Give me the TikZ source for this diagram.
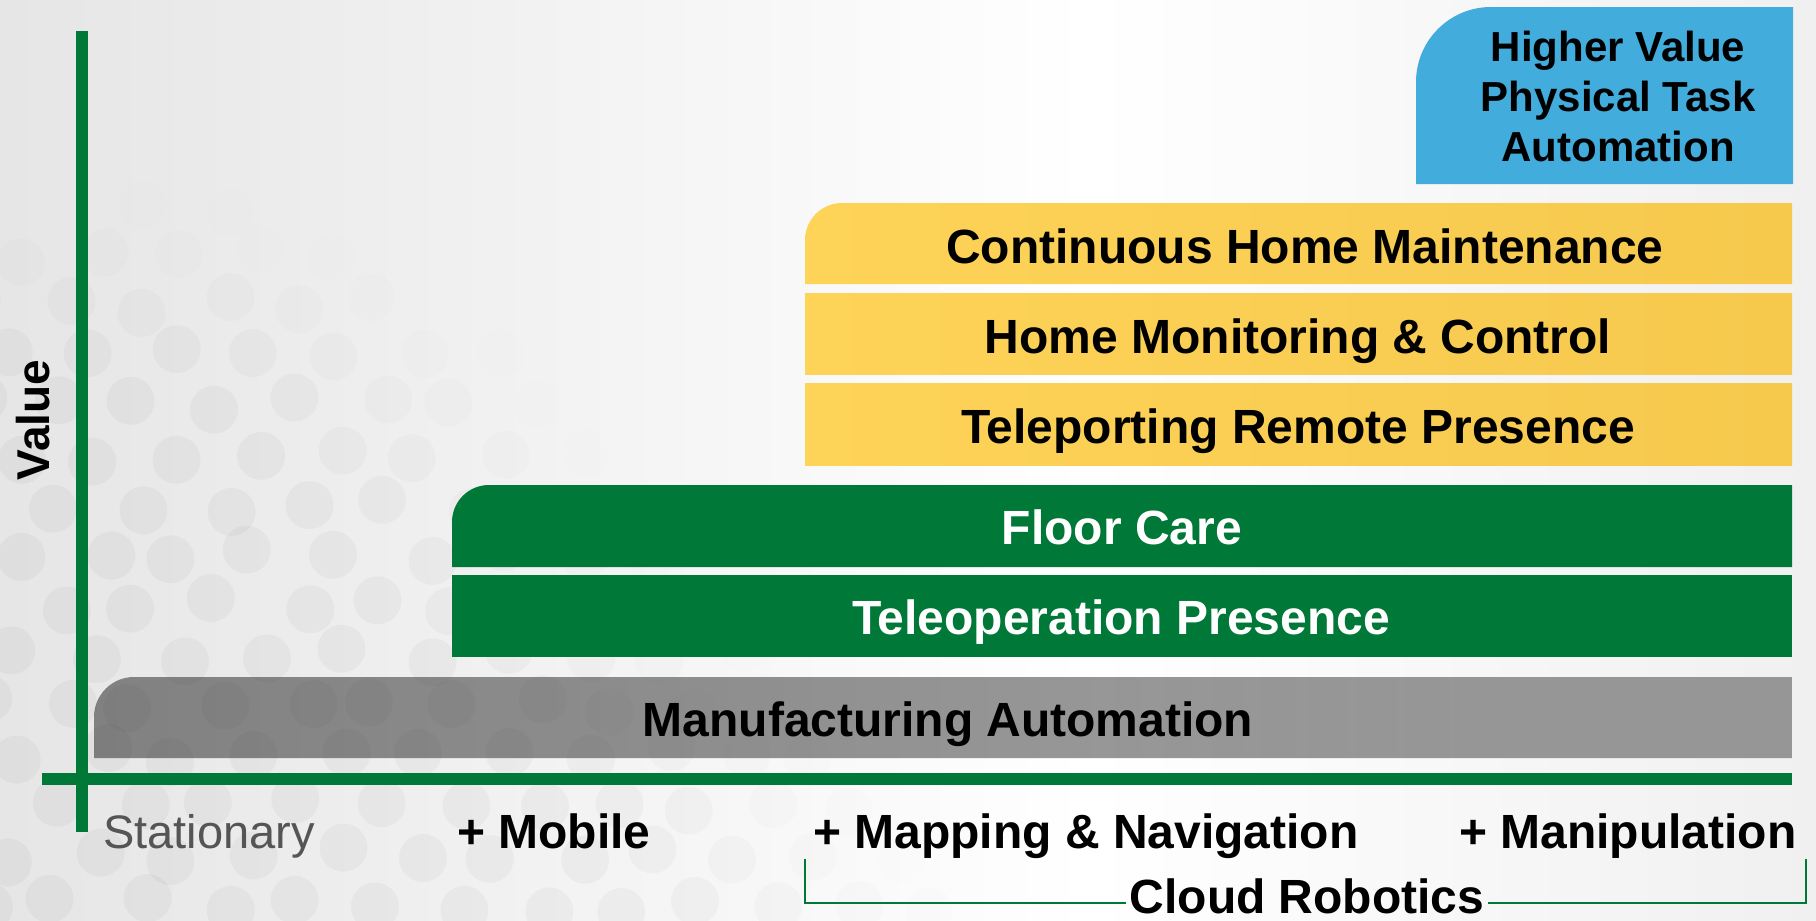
\documentclass[tikz,border=0pt]{standalone}
\usepackage{fontspec}
\setmainfont{Liberation Sans}
\usepackage{tikz}
\definecolor{axisgreen}{HTML}{007837}
\definecolor{tierblue}{HTML}{42ADDD}
\definecolor{tieryellowl}{HTML}{FDD358}
\definecolor{tieryellowr}{HTML}{F6C94D}
\definecolor{labgray}{HTML}{555555}
\definecolor{bgedgel}{HTML}{D5D5D5}
\definecolor{bgmidl}{HTML}{E8E8E8}
\definecolor{bgmidr}{HTML}{F0F0F0}
\definecolor{bgedger}{HTML}{CECECE}
\pgfdeclarehorizontalshading{backdrop}{100bp}{color(0bp)=(bgedgel); color(28bp)=(bgmidl);
  color(55bp)=(white); color(75bp)=(bgmidr); color(100bp)=(bgedger)}
% one box with only its top left corner rounded
\newcommand{\tierbox}[6]{%
  \path[#1] (#2,#5) [rounded corners=#6] -- (#2,#3) [sharp corners] -- (#4,#3) -- (#4,#5) -- cycle;}
\tikzset{
  axisline/.style={draw=axisgreen, line width=12pt},
  bracket/.style={draw=axisgreen, line width=2.5pt},
  yellowtier/.style={left color=tieryellowl, right color=tieryellowr},
  greentier/.style={fill=axisgreen},
  bluetier/.style={fill=tierblue},
  graytier/.style={left color=black!89, right color=black!76, fill opacity=0.5},
  tiertext/.style={font=\fontsize{48}{56}\selectfont\bfseries, text=black, inner sep=0pt, anchor=base},
  whitetext/.style={tiertext, text=white},
  steplab/.style={font=\fontsize{48}{56}\selectfont\bfseries, text=black, inner sep=0pt, anchor=base west},
  dot/.style={fill=black}
}

\begin{document}
\begin{tikzpicture}[x=1pt, y=-1pt]
  \useasboundingbox (0,0) rectangle (1816,921);
  \shade[shading=backdrop] (0,0) rectangle (1816,921);

  \pgfmathsetseed{7}
  \begin{scope}
    \clip (0,0) rectangle (1816,921);
    \foreach \r in {0,...,14}{
      \foreach \c in {0,...,14}{
        \pgfmathsetmacro{\dx}{80*\c + 40*mod(\r,2) - 20 + 14*rand}
        \pgfmathsetmacro{\dy}{205 + 50*\r + 8*rand}
        \pgfmathsetmacro{\fa}{max(0,min(1,(400 + 0.85*(\dy-200) - \dx)/320))}
        \pgfmathsetmacro{\fb}{max(0,min(1,(\dy-190)/180))}
        \pgfmathsetmacro{\op}{0.03*\fa*\fb}
        \fill[dot, fill opacity=\op] (\dx,\dy) circle[radius=24];
      }
    }
  \end{scope}

  \tierbox{bluetier}{1416}{7}{1793}{184}{75pt}
  \tierbox{yellowtier}{805}{203}{1792}{284}{37pt}
  \tierbox{yellowtier}{805}{293}{1792}{374}{0pt}
  \tierbox{yellowtier}{805}{383}{1792}{465}{0pt}
  \tierbox{greentier}{452}{485}{1792}{567}{37pt}
  \tierbox{greentier}{452}{575}{1792}{657}{0pt}
  \tierbox{graytier}{94}{677}{1792}{758}{40pt}

  \node[tiertext, anchor=center, align=center, font=\fontsize{42}{50}\selectfont\bfseries]
    (higher) at (1618,96) {Higher Value\\Physical Task\\Automation};
  \node[tiertext] (maint) at (1305,263) {Continuous Home Maintenance};
  \node[tiertext] (monit) at (1298,353) {Home Monitoring \& Control};
  \node[tiertext] (telep) at (1298,443) {Teleporting Remote Presence};
  \node[whitetext] (floor) at (1122,544) {Floor Care};
  \node[whitetext] (teleop) at (1121,634) {Teleoperation Presence};
  \node[tiertext] (manuf) at (948,736) {Manufacturing Automation};

  \coordinate (vtop) at (82,31);
  \coordinate (vbot) at (82,832);
  \coordinate (hleft) at (42,779);
  \coordinate (hright) at (1792,779);
  \draw[axisline] (vtop) -- (vbot);
  \draw[axisline] (hleft) -- (hright);

  \node[font=\fontsize{46}{54}\selectfont\bfseries, rotate=90] (value) at (33,420) {Value};

  \node[steplab, font=\fontsize{47}{54}\selectfont, text=labgray] (stat) at (103,848) {Stationary};
  \node[steplab] (mobile) at (457,848) {+ Mobile};
  \node[steplab] (mapnav) at (813,848) {+ Mapping \& Navigation};
  \node[steplab] (manip) at (1459,848) {+ Manipulation};

  \node[tiertext, inner sep=3pt] (cloud) at (1307,913) {Cloud Robotics};
  \coordinate (brL) at (805,859);
  \coordinate (brR) at (1806,859);
  \coordinate (brbase) at (0,903);
  \draw[bracket] (brL) |- (cloud.west |- brbase);
  \draw[bracket] (brR) |- (cloud.east |- brbase);
\end{tikzpicture}
\end{document}
